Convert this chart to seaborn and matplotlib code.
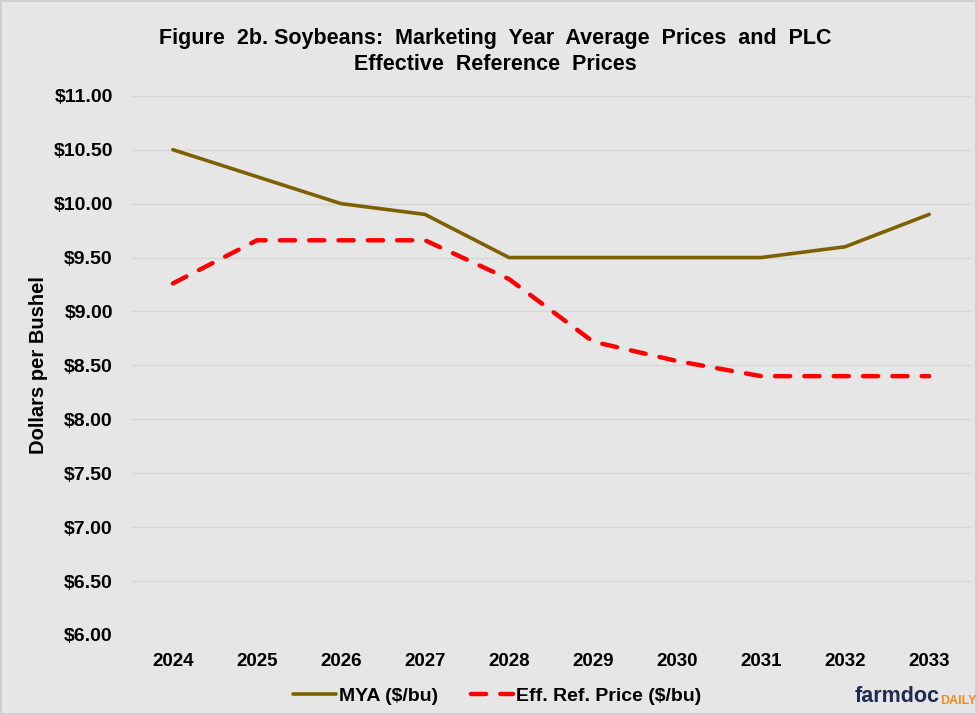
import numpy as np
import pandas as pd
import matplotlib
matplotlib.use("Agg")
import matplotlib.pyplot as plt
import seaborn as sns

years = [2024, 2025, 2026, 2027, 2028, 2029, 2030, 2031, 2032, 2033]
mya = [10.50, 10.25, 10.00, 9.90, 9.50, 9.50, 9.50, 9.50, 9.60, 9.90]
eff_ref = [9.26, 9.66, 9.66, 9.66, 9.30, 8.72, 8.54, 8.40, 8.40, 8.40]
y_ticks = np.arange(6.0, 11.01, 0.5)

bg = "#e6e6e6"
sns.set_theme(style="whitegrid")
plt.rcParams["font.family"] = ["Liberation Sans", "DejaVu Sans"]
plt.rcParams["font.weight"] = "bold"
plt.rcParams["text.color"] = "black"
plt.rcParams["axes.labelcolor"] = "black"

df = pd.DataFrame({"year": years, "mya": mya, "eff": eff_ref})

fig = plt.figure(figsize=(9.77, 7.15), dpi=100, facecolor=bg)
fig.patch.set_edgecolor("#cfcfcf")
fig.patch.set_linewidth(1.5)
ax = fig.add_axes([0.134, 0.112, 0.860, 0.754])
ax.set_facecolor(bg)

sns.lineplot(data=df, x="year", y="mya", ax=ax, color="#7f6000", linewidth=2.6,
             label="MYA ($/bu)")
sns.lineplot(data=df, x="year", y="eff", ax=ax, color="#ff0000", linewidth=3.2,
             label="Eff. Ref. Price ($/bu)", dashes=False)
ax.lines[1].set_dashes((3.4, 3.2))
ax.lines[1].set_dash_capstyle("round")

ax.set_xlim(2023.5, 2033.5)
ax.set_ylim(6.0, 11.0)
ax.set_xticks(years)
ax.set_xticklabels([str(y) for y in years], fontsize=13.5, fontweight="bold")
ax.set_yticks(y_ticks)
ax.set_yticklabels([f"${v:.2f}" for v in y_ticks], fontsize=14, fontweight="bold")
ax.tick_params(axis="both", length=0, colors="black")
ax.tick_params(axis="y", pad=13)
ax.tick_params(axis="x", pad=13)
ax.grid(axis="y", color="#d6d6d6", linewidth=1)
ax.grid(axis="x", visible=False)
for s in ax.spines.values():
    s.set_visible(False)
ax.set_xlabel("")
ax.set_ylabel("Dollars per Bushel", fontsize=14.5, fontweight="bold", color="black")
ax.yaxis.set_label_coords(-0.099, 0.5)

fig.text(0.507, 0.928, "Figure  2b. Soybeans:  Marketing  Year  Average  Prices  and  PLC\nEffective  Reference  Prices",
         ha="center", va="center", fontsize=15.5, fontweight="bold", linespacing=1.3,
         color="black")

leg = ax.legend(loc="upper center", bbox_to_anchor=(0.436, -0.064), ncol=2, frameon=False,
                fontsize=14, handlelength=2.2, handletextpad=0.15, columnspacing=1.7)
for t in leg.get_texts():
    t.set_fontweight("bold")
    t.set_color("black")

fig.text(0.875, 0.011, "farmdoc", color="#1f2a4f", fontsize=15.5, fontweight="bold",
         ha="left", va="bottom")
fig.text(0.962, 0.011, "DAILY", color="#f28c1e", fontsize=9, fontweight="bold",
         ha="left", va="bottom")

fig.savefig("out.png", dpi=100, facecolor=bg, edgecolor=fig.patch.get_edgecolor())
